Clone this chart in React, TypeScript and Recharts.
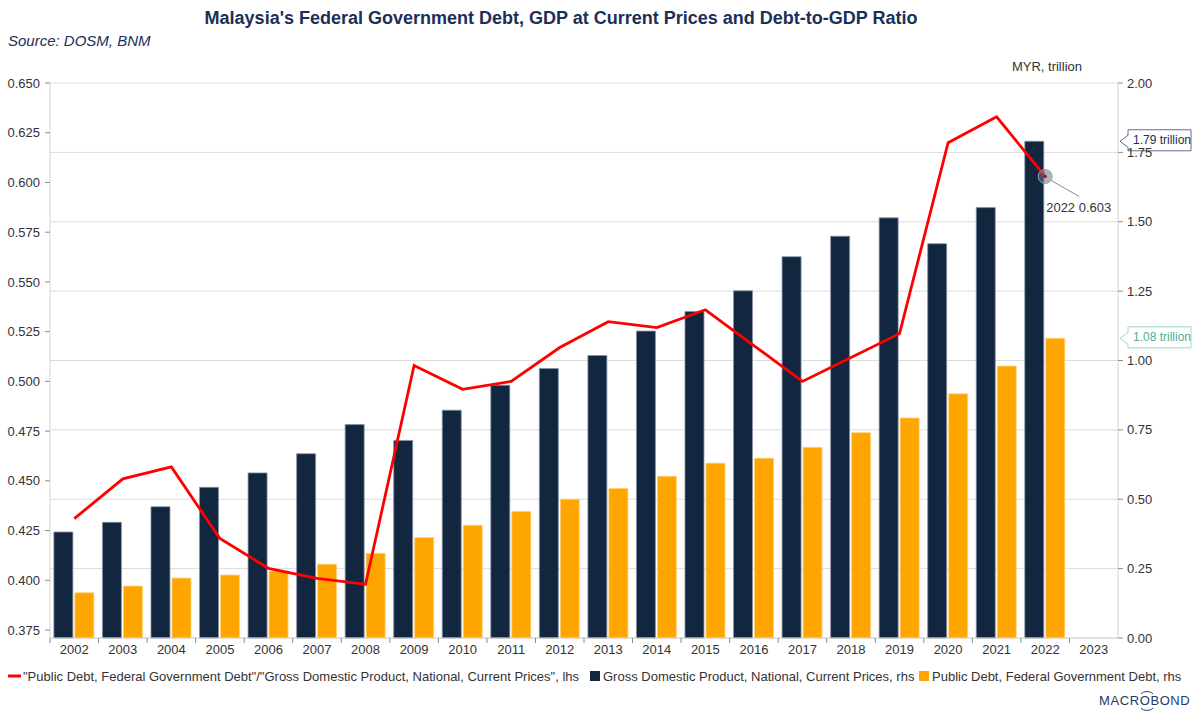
import React from 'react';
import {
  ComposedChart,
  Bar,
  Line,
  XAxis,
  YAxis,
  CartesianGrid,
  ReferenceLine,
  ReferenceDot,
  Label,
} from 'recharts';

// ---- data -------------------------------------------------------------
const years = [
  '2002', '2003', '2004', '2005', '2006', '2007', '2008', '2009', '2010', '2011', '2012',
  '2013', '2014', '2015', '2016', '2017', '2018', '2019', '2020', '2021', '2022', '2023',
];

// Debt-to-GDP ratio (lhs)
const debtToGdp: (number | null)[] = [
  0.431, 0.451, 0.457, 0.421, 0.406, 0.401, 0.398, 0.508, 0.496, 0.5, 0.517,
  0.53, 0.527, 0.536, 0.518, 0.5, 0.512, 0.524, 0.62, 0.633, 0.603, null,
];

// GDP at current prices, MYR trillion (rhs)
const gdpTrillion: (number | null)[] = [
  0.382, 0.417, 0.473, 0.543, 0.595, 0.664, 0.769, 0.712, 0.821, 0.911, 0.971,
  1.018, 1.106, 1.177, 1.251, 1.374, 1.448, 1.514, 1.421, 1.551, 1.79, null,
];

// Federal government debt, MYR trillion (rhs)
const debtTrillion: (number | null)[] = [
  0.163, 0.187, 0.216, 0.227, 0.241, 0.266, 0.305, 0.362, 0.406, 0.456, 0.5,
  0.539, 0.583, 0.63, 0.648, 0.687, 0.74, 0.793, 0.88, 0.98, 1.08, null,
];

const leftTicks = [0.375, 0.4, 0.425, 0.45, 0.475, 0.5, 0.525, 0.55, 0.575, 0.6, 0.625, 0.65];
const rightTicks = [0, 0.25, 0.5, 0.75, 1, 1.25, 1.5, 1.75, 2];

const lastIdx = 20; // 2022, latest observation

const data = years.map((y, i) => ({
  year: y,
  ratio: debtToGdp[i],
  gdp: gdpTrillion[i],
  debt: debtTrillion[i],
}));

// ---- styling ----------------------------------------------------------
const FONT = "'Liberation Sans', Arial, Helvetica, sans-serif";
const NAVY = '#12263F';
const ORANGE = '#FFA500';
const RED = '#FF0000';
const TITLE_COLOR = '#1B2F57';
const TEXT = '#333333';

const W = 1200;
const H = 716;
const LEFT_AXIS_W = 50;
const RIGHT_AXIS_W = 82;
const PLOT_W = W - LEFT_AXIS_W - RIGHT_AXIS_W;

const XTick = (props: any) => {
  const { x, y, payload } = props;
  const band = PLOT_W / years.length;
  const bx = x - band / 2;
  return (
    <g>
      <line x1={bx} x2={bx} y1={y - 7} y2={y - 2} stroke="#8c8c8c" strokeWidth={1} />
      <text x={x} y={y + 9} textAnchor="middle" fontSize={13} fill={TEXT} fontFamily={FONT}>
        {payload.value}
      </text>
    </g>
  );
};

// Callout box pointing at the right axis
const makeCallout = (text: string, border: string, color: string) => (props: any) => {
  const vb = props.viewBox || {};
  const tipX = (vb.x || 0) + (vb.width || 0) + 2;
  const cy = vb.y || 0;
  const bx = tipX + 8;
  const bw = 63;
  const bh = 21;
  const top = cy - bh / 2 - 1;
  const d = `M${tipX},${cy} L${bx},${cy - 6} L${bx},${top} L${bx + bw},${top} L${bx + bw},${top + bh} L${bx},${top + bh} L${bx},${cy + 6} Z`;
  return (
    <g>
      <path d={d} fill="#ffffff" stroke={border} strokeWidth={1} />
      <text x={bx + 5} y={cy + 3} fontSize={12} fill={color} fontFamily={FONT}>
        {text}
      </text>
    </g>
  );
};

const PointMarker = (props: any) => {
  const { cx, cy } = props;
  return (
    <g>
      <circle cx={cx} cy={cy} r={7} fill="rgba(105,115,140,0.55)" stroke="#9aa3b5" strokeWidth={1} />
      <circle cx={cx} cy={cy} r={1.6} fill="#b0002a" />
      <line x1={cx + 6} y1={cy + 4} x2={cx + 34} y2={cy + 20} stroke="#8c8c8c" strokeWidth={1} />
      <text x={cx + 1} y={cy + 36} fontSize={13} fill={TEXT} fontFamily={FONT}>
        {`${years[lastIdx]} ${(debtToGdp[lastIdx] as number).toFixed(3)}`}
      </text>
    </g>
  );
};

export default function App() {
  const gdpLast = gdpTrillion[lastIdx] as number;
  const debtLast = debtTrillion[lastIdx] as number;
  return (
    <div style={{ position: 'absolute', left: 0, top: 0, width: W, height: H, background: '#ffffff' }}>
      <ComposedChart
        width={W}
        height={H}
        data={data}
        margin={{ top: 83, right: 0, bottom: 48, left: 0 }}
        barGap={2}
        barCategoryGap="8%"
      >
        <CartesianGrid yAxisId="right" vertical={false} horizontal stroke="#dcdcdc" strokeWidth={1} />
        <XAxis
          dataKey="year"
          type="category"
          height={30}
          tick={<XTick />}
          tickLine={false}
          tickSize={5}
          tickMargin={2}
          axisLine={{ stroke: '#d4d4d4' }}
          interval={0}
        />
        <YAxis
          yAxisId="left"
          orientation="left"
          width={LEFT_AXIS_W}
          domain={[0.371, 0.65]}
          ticks={leftTicks}
          interval={0}
          tickFormatter={(v: number) => v.toFixed(3)}
          tick={{ fontSize: 13, fill: TEXT, fontFamily: FONT }}
          tickLine={{ stroke: '#8c8c8c' }}
          tickSize={5}
          tickMargin={5}
          axisLine={{ stroke: '#d4d4d4' }}
        />
        <YAxis
          yAxisId="right"
          orientation="right"
          width={RIGHT_AXIS_W}
          domain={[0, 2]}
          ticks={rightTicks}
          interval={0}
          tickFormatter={(v: number) => v.toFixed(2)}
          tick={{ fontSize: 13, fill: TEXT, fontFamily: FONT }}
          tickLine={{ stroke: '#8c8c8c' }}
          tickSize={5}
          tickMargin={4}
          axisLine={{ stroke: '#d4d4d4' }}
        />
        <Bar
          yAxisId="right"
          dataKey="gdp"
          fill={NAVY}
          stroke="#8793a6"
          strokeWidth={0.8}
          isAnimationActive={false}
        />
        <Bar
          yAxisId="right"
          dataKey="debt"
          fill={ORANGE}
          stroke="#ffd27a"
          strokeWidth={0.8}
          isAnimationActive={false}
        />
        <Line
          yAxisId="left"
          dataKey="ratio"
          type="linear"
          stroke={RED}
          strokeWidth={2.8}
          dot={false}
          activeDot={false}
          connectNulls={false}
          isAnimationActive={false}
        />
        <ReferenceDot
          yAxisId="left"
          x={years[lastIdx]}
          y={debtToGdp[lastIdx] as number}
          r={7}
          shape={<PointMarker />}
        />
        <ReferenceLine
          yAxisId="right"
          y={gdpLast}
          stroke="none"
          label={<Label content={makeCallout(`${gdpLast.toFixed(2)} trillion`, '#5d6d8f', '#1B2F57')} />}
        />
        <ReferenceLine
          yAxisId="right"
          y={debtLast}
          stroke="none"
          label={<Label content={makeCallout(`${debtLast.toFixed(2)} trillion`, '#9fd8c6', '#4fae90')} />}
        />
      </ComposedChart>

      {/* titles, units, legend and logo */}
      <svg
        width={W}
        height={H}
        style={{ position: 'absolute', left: 0, top: 0, pointerEvents: 'none' }}
      >
        <text
          x={561}
          y={24}
          textAnchor="middle"
          fontSize={18}
          fontWeight="bold"
          fill={TITLE_COLOR}
          fontFamily={FONT}
        >
          Malaysia's Federal Government Debt, GDP at Current Prices and Debt-to-GDP Ratio
        </text>
        <text x={8} y={46} fontSize={15} fontStyle="italic" fill={TITLE_COLOR} fontFamily={FONT}>
          Source: DOSM, BNM
        </text>
        <text x={1082} y={71} textAnchor="end" fontSize={13} fill={TEXT} fontFamily={FONT}>
          MYR, trillion
        </text>

        {/* legend */}
        <line x1={8} x2={21} y1={676} y2={676} stroke={RED} strokeWidth={3} />
        <text x={23} y={681} fontSize={13} fill={TEXT} fontFamily={FONT}>
          "Public Debt, Federal Government Debt"/"Gross Domestic Product, National, Current Prices", lhs
        </text>
        <rect x={590} y={671} width={10} height={10} fill={NAVY} />
        <text x={603} y={681} fontSize={13} fill={TEXT} fontFamily={FONT}>
          Gross Domestic Product, National, Current Prices, rhs
        </text>
        <rect x={919} y={671} width={10} height={10} fill={ORANGE} />
        <text x={932} y={681} fontSize={13} fill={TEXT} fontFamily={FONT}>
          Public Debt, Federal Government Debt, rhs
        </text>

        {/* logo */}
        <text x={1099} y={705} fontSize={13} letterSpacing={0.6} fill="#1f3a68" fontFamily={FONT}>
          MACROBOND
        </text>
        <path d="M1141,694 A7,5 0 0 1 1153,694" fill="none" stroke="#1f3a68" strokeWidth={1} />
        <path d="M1141,708 A7,5 0 0 0 1153,708" fill="none" stroke="#1f3a68" strokeWidth={1} />
      </svg>
    </div>
  );
}
